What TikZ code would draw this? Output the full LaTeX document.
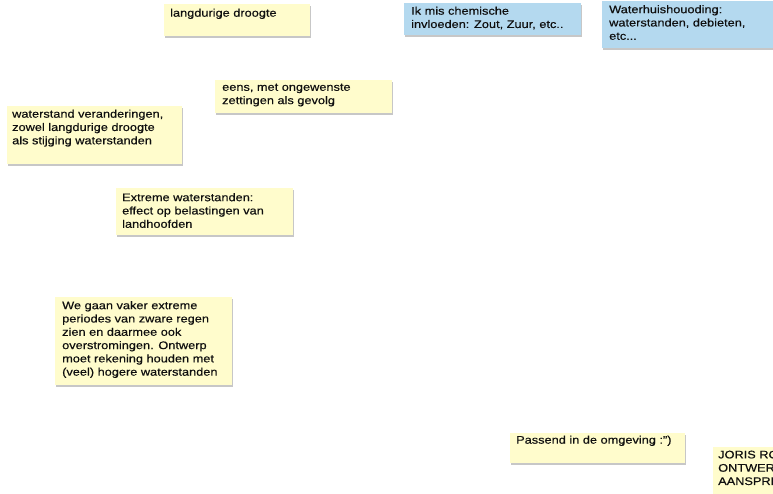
\documentclass[tikz,border=0pt]{standalone}
\usepackage{fontspec}
\setmainfont[FakeStretch=1.16,FakeBold=0.4]{Liberation Sans}
\usetikzlibrary{shadows}
\definecolor{noteyellow}{RGB}{255,252,204}
\definecolor{noteblue}{RGB}{180,217,239}
\definecolor{inkc}{RGB}{15,15,15}
\begin{document}
\begin{tikzpicture}[x=1pt,y=-1pt,
  note/.style={fill=noteyellow,draw=none,anchor=north west,inner sep=0pt,
    drop shadow={shadow xshift=0.5pt,shadow yshift=-1.5pt,opacity=0.22,fill=black}},
  bluenote/.style={note,fill=noteblue},
  notetext/.style={anchor=north west,inner sep=0pt,align=left,text=inkc,
    font=\fontsize{11}{13.3}\selectfont}]
\useasboundingbox (0,0) rectangle (773,493);
\clip (0,0) rectangle (773,493);
% notes
\node[note,minimum width=146pt,minimum height=32pt] (n1) at (164,4) {};
\node[notetext] (t1) at (170,8.5) {langdurige droogte};
\node[bluenote,minimum width=177pt,minimum height=32pt] (n2) at (404,3) {};
\node[notetext] (t2) at (411,6.5) {Ik mis chemische\\invloeden: Zout, Zuur, etc..};
\node[bluenote,minimum width=190pt,minimum height=47pt] (n3) at (602,1) {};
\node[notetext] (t3) at (609,5) {Waterhuishouoding:\\waterstanden, debieten,\\etc...};
\node[note,minimum width=177pt,minimum height=33pt] (n4) at (215,80) {};
\node[notetext] (t4) at (222,83.5) {eens, met ongewenste\\zettingen als gevolg};
\node[note,minimum width=175pt,minimum height=58pt] (n5) at (7,106) {};
\node[notetext] (t5) at (12,109.5) {waterstand veranderingen,\\zowel langdurige droogte\\als stijging waterstanden};
\node[note,minimum width=177pt,minimum height=47pt] (n6) at (116,188) {};
\node[notetext] (t6) at (122,193) {Extreme waterstanden:\\effect op belastingen van\\landhoofden};
\node[note,minimum width=177pt,minimum height=88pt] (n7) at (55,297) {};
\node[notetext] (t7) at (62,301) {We gaan vaker extreme\\periodes van zware regen\\zien en daarmee ook\\overstromingen. Ontwerp\\moet rekening houden met\\(veel) hogere waterstanden};
\node[note,minimum width=175pt,minimum height=30pt] (n8) at (510,433) {};
\node[notetext] (t8) at (516,435.5) {Passend in de omgeving :")};
\node[note,minimum width=90pt,minimum height=52pt] (n9) at (713,447) {};
\node[notetext] (t9) at (718,450.5) {JORIS RO\\ONTWERP\\AANSPRE};
\end{tikzpicture}
\end{document}
